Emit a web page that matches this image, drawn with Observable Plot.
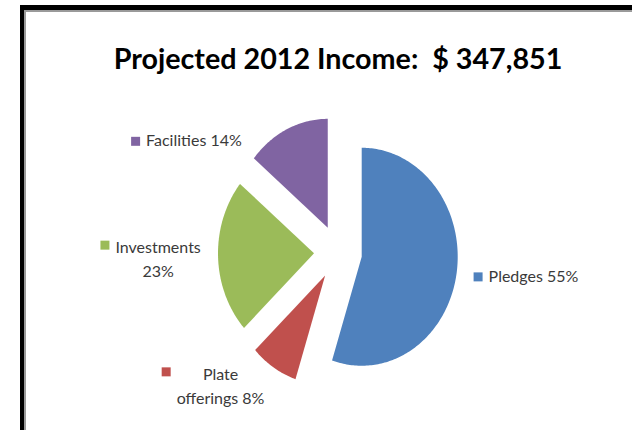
<!DOCTYPE html>
<html>
<head>
<meta charset="utf-8">
<script src="https://cdn.jsdelivr.net/npm/d3@7"></script>
<script src="https://cdn.jsdelivr.net/npm/@observablehq/plot@0.6"></script>
<style>
  html, body { margin: 0; padding: 0; background: #fff; }
  #wrap { position: relative; width: 632px; height: 430px; overflow: hidden; }
  #frame { position: absolute; left: 20px; top: 5px; right: -10px; bottom: -10px;
           border-left: 4px solid #000; border-top: 5px solid #000; }
  #frame2 { position: absolute; left: 0; top: 0; right: 0; bottom: 0;
            border-left: 2px solid #9a9a9a; border-top: 2px solid #9a9a9a; }
  #chart { position: absolute; left: 0; top: 0; }
</style>
</head>
<body>
<div id="wrap">
  <div id="frame"><div id="frame2"></div></div>
  <div id="chart"></div>
</div>
<script>
// ---- data ----
const categories = ["Pledges", "Plate offerings", "Investments", "Facilities"];
const percents = [55, 8, 23, 14];
const labels = ["Pledges 55%", "Plate\nofferings 8%", "Investments\n23%", "Facilities 14%"];
const colors = ["#4F81BD", "#C0504D", "#9BBB59", "#8064A2"];
const title = "Projected 2012 Income:  $ 347,851";

// ---- layout ----
const W = 632, H = 430;
const CX = 337.5, CY = 252;   // pie centre (px)
const RX = 96, RY = 109;      // pie radii (px)
const EXPLODE = 0.25;         // explosion as a fraction of radius
const LABEL_R = 1.43, LABEL_CAP = 1.02;
const FONT = "Lato, 'Open Sans', sans-serif";
const LABEL_SIZE = 16;
const LINE_H = 24.5;          // px
const MARK = 9, GAP = 6;      // legend key size & gap (px)
const TITLE_W = 449;          // target title width (px)

const canvas = document.createElement("canvas");
const ctx = canvas.getContext("2d");
function measure(text, font) { ctx.font = font; return ctx.measureText(text).width; }
const titleSize = 29 * TITLE_W / measure(title, `bold 29px ${FONT}`);

const total = d3.sum(percents);
const slices = [];
const labelRows = [];
let cum = 0;
categories.forEach((c, i) => {
  const a0 = cum / total * 2 * Math.PI;
  cum += percents[i];
  const a1 = cum / total * 2 * Math.PI;
  const m = (a0 + a1) / 2;
  const ox = Math.sin(m) * EXPLODE, oy = Math.cos(m) * EXPLODE;
  slices.push({category: c, x: ox, y: oy});
  const steps = Math.max(2, Math.ceil((a1 - a0) / (Math.PI / 180)));
  for (let k = 0; k <= steps; k++) {
    const a = a0 + (a1 - a0) * k / steps;
    slices.push({category: c, x: ox + Math.sin(a), y: oy + Math.cos(a)});
  }
  slices.push({category: c, x: ox, y: oy});

  // label placement on an outer ellipse, kept inside the plot area
  let ux = Math.sin(m) * LABEL_R, uy = Math.cos(m) * LABEL_R;
  if (uy > LABEL_CAP) { uy = LABEL_CAP; ux = Math.sign(ux) * Math.sqrt(LABEL_R * LABEL_R - LABEL_CAP * LABEL_CAP); }
  const px = CX + ux * RX, py = CY - uy * RY;
  const lines = labels[i].split("\n");
  const tw = d3.max(lines, l => measure(l, `${LABEL_SIZE}px ${FONT}`));
  const bw = MARK + GAP + tw;
  const left = ux >= 0 ? px : px - bw;
  const firstY = py - (lines.length - 1) * LINE_H / 2;
  const textX = lines.length > 1 ? left + MARK + GAP + tw / 2 : left + MARK + GAP;
  labelRows.push({
    category: c, text: labels[i], multi: lines.length > 1,
    mx: (left + MARK / 2 - CX) / RX, my: (CY - firstY) / RY,
    tx: (textX - CX) / RX, ty: (CY - py) / RY
  });
});

const chart = Plot.plot({
  width: W, height: H,
  margin: 0,
  style: {background: "transparent", fontFamily: FONT},
  x: {domain: [-CX / RX, (W - CX) / RX], axis: null},
  y: {domain: [-(H - CY) / RY, CY / RY], axis: null},
  color: {domain: categories, range: colors},
  marks: [
    Plot.line(slices, {x: "x", y: "y", z: "category", fill: "category", stroke: "none", curve: "linear"}),
    Plot.dot(labelRows, {x: "mx", y: "my", fill: "category", symbol: "square", r: MARK / Math.sqrt(Math.PI), stroke: "none"}),
    Plot.text(labelRows.filter(d => !d.multi), {x: "tx", y: "ty", text: "text", textAnchor: "start", fontSize: LABEL_SIZE, fill: "#3a3a3a"}),
    Plot.text(labelRows.filter(d => d.multi), {x: "tx", y: "ty", text: "text", textAnchor: "middle", lineAnchor: "middle", lineHeight: LINE_H / LABEL_SIZE, fontSize: LABEL_SIZE, fill: "#3a3a3a"}),
    Plot.text([title], {x: () => 0, frameAnchor: "top", dy: 48, text: d => d, fontSize: titleSize, fontWeight: "bold", fill: "#000"})
  ]
});
document.getElementById("chart").appendChild(chart);
</script>
</body>
</html>
